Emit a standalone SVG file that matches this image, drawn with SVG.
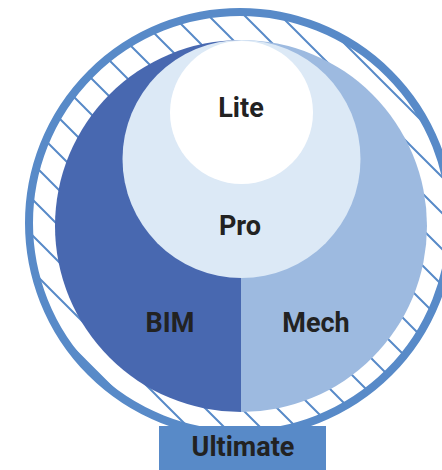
<svg xmlns="http://www.w3.org/2000/svg" width="442" height="470" viewBox="0 0 442 470">
  <style>
    .lbl { font-family: Roboto, "Liberation Sans", Arial, sans-serif; font-weight: 700; font-size: 27px; fill: #222222; text-anchor: middle; }
    .hatch { stroke: #588AC8; stroke-width: 2; fill: none; }
  </style>
  <defs>
    <pattern id="hatch" patternUnits="userSpaceOnUse" width="36" height="36" patternTransform="translate(13,0)">
      <path class="hatch" d="M-9,-9 L45,45 M-45,-9 L9,45 M27,-9 L81,45"/>
    </pattern>
  </defs>
  <rect width="442" height="470" fill="#ffffff"/>
  <g id="ultimate">
    <circle cx="240" cy="223" r="208" fill="url(#hatch)"/>
    <circle cx="240" cy="223" r="211" fill="none" stroke="#588AC8" stroke-width="8"/>
    <rect x="159" y="426" width="167" height="50" fill="#588AC8"/>
    <text class="lbl" x="243" y="456">Ultimate</text>
  </g>
  <g id="bim">
    <path d="M241,40 A186,186 0 0 0 241,412 Z" fill="#4868B0"/>
    <text class="lbl" x="170" y="332">BIM</text>
  </g>
  <g id="mech">
    <path d="M241,40 A186,186 0 0 1 241,412 Z" fill="#9DBAE0"/>
    <text class="lbl" x="316" y="332">Mech</text>
  </g>
  <g id="pro">
    <circle cx="241.5" cy="159" r="119" fill="#DCE9F6"/>
    <text class="lbl" x="240" y="235">Pro</text>
  </g>
  <g id="lite">
    <circle cx="241.5" cy="112.5" r="71.5" fill="#ffffff"/>
    <text class="lbl" x="241" y="117">Lite</text>
  </g>
  <g id="connectors"/>
</svg>
